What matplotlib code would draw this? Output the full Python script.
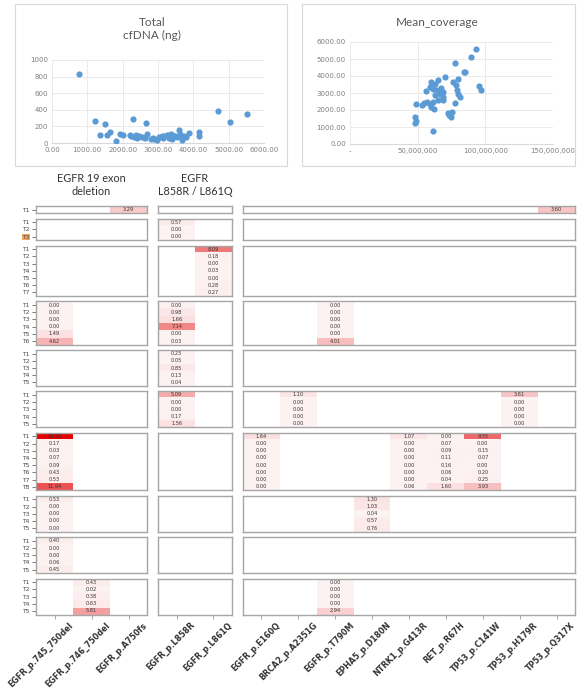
import numpy as np
import matplotlib.pyplot as plt
from matplotlib.colors import LinearSegmentedColormap
from matplotlib.patches import Rectangle
from matplotlib import transforms

# --- scatter data ---
cov_x = [752, 1204, 1364, 1514, 1570, 1646, 1806, 1928, 2003, 2210, 2285, 2238, 2323, 2398,
         2464, 2379, 2652, 2680, 2793, 2868, 2962, 3037, 3103, 3169, 3244, 3301, 3357, 3395,
         3451, 3526, 3583, 3620, 3667, 3733, 3790, 3884, 4147, 4157, 4702, 5031, 5511, 2642,
         2900, 3150, 3480, 3700, 2550, 3300]
cfdna_y = [832, 260, 92, 232, 100, 128, 28, 108, 96, 100, 288, 80, 68, 60,
           80, 92, 236, 104, 48, 56, 40, 68, 80, 88, 100, 64, 112, 48,
           88, 72, 160, 104, 40, 88, 72, 120, 128, 88, 388, 252, 352, 60,
           50, 60, 90, 70, 70, 95]

reads_x = [93.4, 89.3, 77.5, 84.1, 85.3, 70.1, 79.9, 95.4, 96.6, 76.2, 78.2, 65.2, 62.7, 60.2,
           59.0, 61.5, 56.1, 64.0, 67.6, 68.9, 68.4, 68.9, 79.9, 81.1, 78.7, 62.7, 65.2, 61.5,
           56.6, 54.8, 52.9, 48.7, 59.0, 60.2, 62.0, 77.5, 75.7, 73.3, 72.5, 74.3, 48.0, 48.7,
           48.0, 61.5, 66.4]
meancov_y = [5608, 5120, 4768, 4240, 4240, 3947, 3850, 3400, 3205, 3634, 3498, 3752, 3556, 3654,
             3361, 3263, 3107, 3165, 3322, 3068, 2775, 2579, 2931, 2775, 3165, 2872, 2579, 2481,
             2481, 2384, 2286, 2345, 2345, 2149, 2032, 2384, 1895, 1700, 1798, 1563, 1602, 1368,
             1250, 762, 2970]

# --- heatmap data ---
columns = ["EGFR_p.745_750del", "EGFR_p.746_750del", "EGFR_p.A750fs",
           "EGFR_p.L858R", "EGFR_p.L861Q",
           "EGFR_p.E160Q", "BRCA2_p.A2351G", "EGFR_p.T790M", "EPHA5_p.D180N",
           "NTRK1_p.G413R", "RET_p.R67H", "TP53_p.C141W", "TP53_p.H179R", "TP53_p.Q317X"]
group_titles = ["EGFR 19 exon\ndeletion", "EGFR\nL858R / L861Q", ""]
block_rows = [1, 3, 7, 6, 5, 5, 8, 5, 5, 5]

block1 = {"EGFR_p.A750fs": [3.29], "TP53_p.Q317X": [3.60]}
block2 = {"EGFR_p.L858R": [0.57, 0.00, 0.00]}
block3 = {"EGFR_p.L861Q": [8.09, 0.18, 0.00, 0.03, 0.00, 0.28, 0.27]}
block4 = {"EGFR_p.745_750del": [0.00, 0.00, 0.00, 0.00, 1.49, 4.62],
          "EGFR_p.L858R": [0.00, 0.98, 1.66, 7.14, 0.00, 0.03],
          "EGFR_p.T790M": [0.00, 0.00, 0.00, 0.00, 0.00, 4.01]}
block5 = {"EGFR_p.L858R": [0.23, 0.05, 0.85, 0.13, 0.04]}
block6 = {"EGFR_p.L858R": [5.09, 0.00, 0.00, 0.17, 1.56],
          "BRCA2_p.A2351G": [1.10, 0.00, 0.00, 0.00, 0.00],
          "TP53_p.H179R": [3.61, 0.00, 0.00, 0.00, 0.00]}
block7 = {"EGFR_p.745_750del": [19.85, 0.17, 0.03, 0.07, 0.09, 0.43, 0.53, 11.94],
          "EGFR_p.E160Q": [1.64, 0.00, 0.00, 0.00, 0.00, 0.00, 0.00, 0.00],
          "NTRK1_p.G413R": [1.07, 0.00, 0.00, 0.00, 0.00, 0.00, 0.00, 0.06],
          "RET_p.R67H": [0.00, 0.07, 0.09, 0.11, 0.16, 0.06, 0.04, 1.60],
          "TP53_p.C141W": [9.55, 0.00, 0.15, 0.07, 0.00, 0.20, 0.25, 3.93]}
block8 = {"EGFR_p.745_750del": [0.53, 0.00, 0.00, 0.00, 0.00],
          "EPHA5_p.D180N": [1.30, 1.03, 0.04, 0.57, 0.76]}
block9 = {"EGFR_p.745_750del": [0.40, 0.00, 0.00, 0.06, 0.45]}
block10 = {"EGFR_p.746_750del": [0.43, 0.02, 0.38, 0.63, 5.81],
           "EGFR_p.T790M": [0.00, 0.00, 0.00, 0.00, 2.94]}
blocks = [block1, block2, block3, block4, block5, block6, block7, block8, block9, block10]

W, H = 585, 692
fig = plt.figure(figsize=(W / 100, H / 100), dpi=100)


def px_axes(x0, y0, x1, y1):
    return fig.add_axes([x0 / W, 1 - y1 / H, (x1 - x0) / W, (y1 - y0) / H])


def px_box(x0, y0, x1, y1, color="#d9d9d9"):
    fig.add_artist(Rectangle((x0 / W, 1 - y1 / H), (x1 - x0) / W, (y1 - y0) / H,
                             transform=fig.transFigure, fill=False, ec=color, lw=0.8))


xl_grey = "#7f7f7f"
dot = "#5b9bd5"

# ---------------- top scatter charts ----------------
px_box(15, 4, 287, 166)
ax = px_axes(52, 60, 264, 143)
ax.scatter(cov_x, cfdna_y, s=20, color=dot, zorder=3, linewidths=0)
ax.set_xlim(0, 6000)
ax.set_ylim(0, 1000)
ax.set_xticks(np.arange(0, 6001, 1000))
ax.set_xticklabels([f"{v:.2f}" for v in np.arange(0, 6001, 1000)])
ax.set_yticks(np.arange(0, 1001, 200))
ax.grid(True, color="#e6e6e6", lw=0.6)
ax.set_axisbelow(True)
for s in ["top", "right", "left"]:
    ax.spines[s].set_visible(False)
ax.spines["bottom"].set_color("#d9d9d9")
ax.tick_params(length=0, labelsize=5, colors=xl_grey, pad=3)
fig.text(152 / W, 1 - 23 / H, "Total", ha="center", va="center", fontsize=8.5, color="#595959",
         family="Lato")
fig.text(152 / W, 1 - 35 / H, "cfDNA (ng)", ha="center", va="center", fontsize=8.5,
         color="#595959", family="Lato")

px_box(302, 4, 575, 166)
ax = px_axes(350, 42, 553, 144)
ax.scatter(np.array(reads_x) * 1e6, meancov_y, s=20, color=dot, zorder=3, linewidths=0)
ax.set_xlim(0, 150e6)
ax.set_ylim(0, 6000)
xt = [0, 50e6, 100e6, 150e6]
ax.set_xticks(xt)
ax.set_xticklabels(["-" if v == 0 else f"{v:,.0f}" for v in xt])
ax.set_yticks(np.arange(0, 6001, 1000))
ax.set_yticklabels([f"{v:.2f}" for v in np.arange(0, 6001, 1000)])
ax.grid(True, color="#e6e6e6", lw=0.6)
ax.set_axisbelow(True)
for s in ["top", "right", "left"]:
    ax.spines[s].set_visible(False)
ax.spines["bottom"].set_color("#d9d9d9")
ax.tick_params(length=0, labelsize=5, colors=xl_grey, pad=3)
fig.text(437 / W, 1 - 23 / H, "Mean_coverage", ha="center", va="center", fontsize=8.5,
         color="#595959", family="Lato")

# ---------------- heatmap panels ----------------
groups = [(0, 3, 36, 147), (3, 5, 158.3, 231.7), (5, 14, 243, 575)]
row_h, gap, top0 = 7.2, 5.4, 206
cmap = LinearSegmentedColormap.from_list(
    "w2r", [(0.0, "#fdf2f2"), (0.15, "#f9d0d0"), (0.4, "#f07a7a"), (1.0, "#e60000")])
cmap.set_bad("white")

for gi, (c0, c1, gx0, gx1) in enumerate(groups):
    if group_titles[gi]:
        fig.text((gx0 + gx1) / 2 / W, 1 - 185 / H, group_titles[gi], ha="center", va="center",
                 fontsize=7.8, color="#333333", family="Lato", linespacing=1.3)

top = top0
for bi, (nrows, blk) in enumerate(zip(block_rows, blocks)):
    mat = np.full((nrows, len(columns)), np.nan)
    for name, vals in blk.items():
        mat[:, columns.index(name)] = vals
    for gi, (c0, c1, gx0, gx1) in enumerate(groups):
        ax = px_axes(gx0, top, gx1, top + nrows * row_h)
        sub = np.ma.masked_invalid(mat[:, c0:c1])
        ax.imshow(sub, cmap=cmap, vmin=0, vmax=20, aspect="auto", interpolation="nearest")
        for i in range(nrows):
            for j in range(c1 - c0):
                v = mat[i, c0 + j]
                if not np.isnan(v):
                    ax.text(j, i, f"{v:.2f}", ha="center", va="center", fontsize=3.6,
                            color="#333333")
        for s in ax.spines.values():
            s.set_color("#a6a6a6")
            s.set_linewidth(1.0)
        ax.set_xticks(np.arange(c1 - c0))
        ax.set_xticklabels([])
        if bi == len(block_rows) - 1:
            ax.tick_params(axis="x", length=3, color="#999999", width=0.6)
            base = transforms.offset_copy(ax.get_xaxis_transform(), fig=fig, x=14, y=-6,
                                          units="dots")
            for j in range(c1 - c0):
                ax.text(j, 0, columns[c0 + j], transform=base, rotation=45, ha="right",
                        va="top", rotation_mode="anchor", fontsize=5.8, fontweight="bold",
                        color="#333333")
        else:
            ax.tick_params(axis="x", length=0)
        ax.set_yticks(np.arange(nrows))
        if gi == 0:
            labs = [f"T{i + 1}" for i in range(nrows)]
            ax.set_yticklabels(labs)
            ax.tick_params(axis="y", length=3, width=0.6, color="#666666", labelsize=4.3,
                           labelcolor="#444444", pad=1.5)
            if bi == 1:
                ax.get_yticklabels()[2].set_bbox(dict(facecolor="#f4a460", edgecolor="none",
                                                      pad=0.5))
        else:
            ax.set_yticklabels([])
            ax.tick_params(axis="y", length=0)
    top += nrows * row_h + gap

fig.savefig("out.png", dpi=100)
